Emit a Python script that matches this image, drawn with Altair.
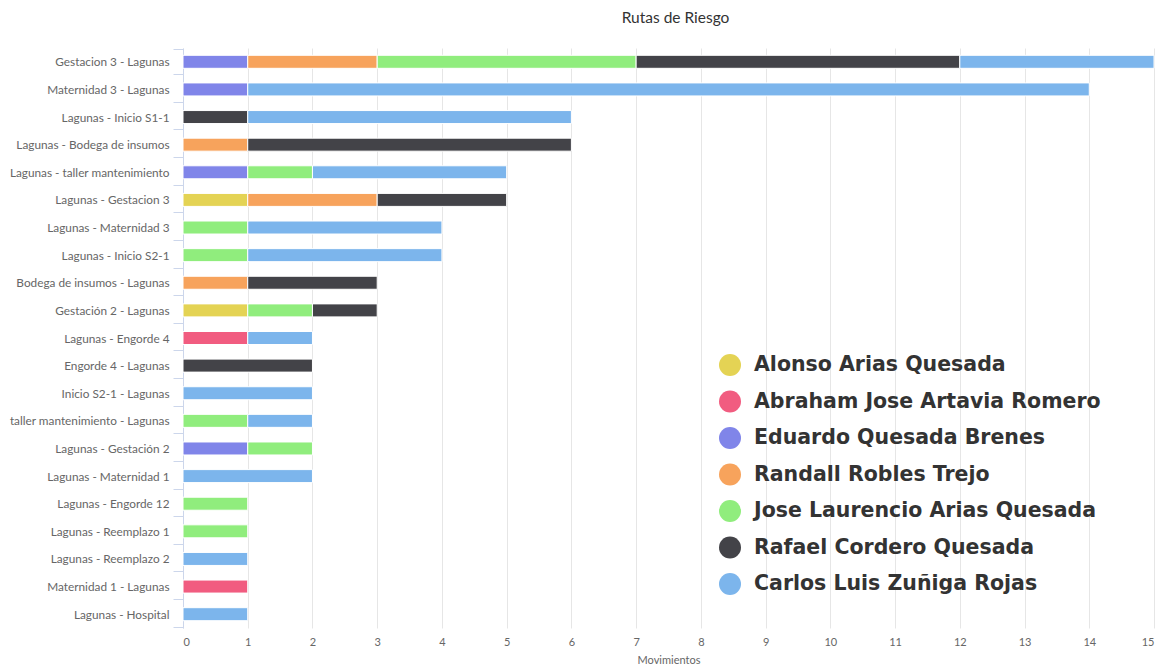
import altair as alt
import pandas as pd

routes = [
    "Gestacion 3 - Lagunas",
    "Maternidad 3 - Lagunas",
    "Lagunas - Inicio S1-1",
    "Lagunas - Bodega de insumos",
    "Lagunas - taller mantenimiento",
    "Lagunas - Gestacion 3",
    "Lagunas - Maternidad 3",
    "Lagunas - Inicio S2-1",
    "Bodega de insumos - Lagunas",
    "Gestación 2 - Lagunas",
    "Lagunas - Engorde 4",
    "Engorde 4 - Lagunas",
    "Inicio S2-1 - Lagunas",
    "taller mantenimiento - Lagunas",
    "Lagunas - Gestación 2",
    "Lagunas - Maternidad 1",
    "Lagunas - Engorde 12",
    "Lagunas - Reemplazo 1",
    "Lagunas - Reemplazo 2",
    "Maternidad 1 - Lagunas",
    "Lagunas - Hospital",
]

people = [
    "Alonso Arias Quesada",
    "Abraham Jose Artavia Romero",
    "Eduardo Quesada Brenes",
    "Randall Robles Trejo",
    "Jose Laurencio Arias Quesada",
    "Rafael Cordero Quesada",
    "Carlos Luis Zuñiga Rojas",
]
colors = ["#e4d354", "#f15c80", "#8085e9", "#f7a35c", "#90ed7d", "#434348", "#7cb5ec"]

alonso  = [0, 0, 0, 0, 0, 1, 0, 0, 0, 1, 0, 0, 0, 0, 0, 0, 0, 0, 0, 0, 0]
abraham = [0, 0, 0, 0, 0, 0, 0, 0, 0, 0, 1, 0, 0, 0, 0, 0, 0, 0, 0, 1, 0]
eduardo = [1, 1, 0, 0, 1, 0, 0, 0, 0, 0, 0, 0, 0, 0, 1, 0, 0, 0, 0, 0, 0]
randall = [2, 0, 0, 1, 0, 2, 0, 0, 1, 0, 0, 0, 0, 0, 0, 0, 0, 0, 0, 0, 0]
jose    = [4, 0, 0, 0, 1, 0, 1, 1, 0, 1, 0, 0, 0, 1, 1, 0, 1, 1, 0, 0, 0]
rafael  = [5, 0, 1, 5, 0, 2, 0, 0, 2, 1, 0, 2, 0, 0, 0, 0, 0, 0, 0, 0, 0]
carlos  = [3, 13, 5, 0, 3, 0, 3, 3, 0, 0, 1, 0, 2, 1, 0, 2, 0, 0, 1, 0, 1]

series = [alonso, abraham, eduardo, randall, jose, rafael, carlos]

rows = []
for i, (name, vals) in enumerate(zip(people, series)):
    for route, v in zip(routes, vals):
        if v > 0:
            rows.append({"ruta": route, "persona": name, "idx": i, "movs": v})
df = pd.DataFrame(rows)

chart = (
    alt.Chart(df)
    .mark_bar(size=13, stroke="white", strokeWidth=1)
    .encode(
        y=alt.Y(
            "ruta:N",
            sort=routes,
            title=None,
            axis=alt.Axis(
                domainColor="#ccd6eb",
                tickColor="#ccd6eb",
                tickSize=10,
                tickBand="extent",
                labelPadding=4,
                labelFontSize=11.8,
                labelColor="#666666",
                labelFont="Lato",
                grid=False,
                minExtent=170,
            ),
        ),
        x=alt.X(
            "movs:Q",
            stack="zero",
            title="Movimientos",
            scale=alt.Scale(domain=[0, 15], nice=False),
            axis=alt.Axis(
                values=list(range(16)),
                domain=False,
                ticks=False,
                labelPadding=8,
                labelFontSize=11,
                labelColor="#666666",
                labelFont="Lato",
                gridColor="#e6e6e6",
                titleFontSize=11,
                titleColor="#666666",
                titleFont="Lato",
                titleFontWeight="normal",
                titlePadding=7,
            ),
        ),
        color=alt.Color(
            "persona:N",
            scale=alt.Scale(domain=people, range=colors),
            legend=alt.Legend(
                title=None,
                orient="none",
                legendX=536,
                legendY=306,
                symbolType="circle",
                symbolSize=484,
                symbolStrokeWidth=0,
                symbolOpacity=1,
                labelFontSize=20.5,
                labelFont="DejaVu Sans",
                labelFontWeight="bold",
                labelColor="#333333",
                labelOffset=13,
                rowPadding=14.5,
                padding=0,
                labelLimit=500,
            ),
        ),
        order=alt.Order("idx:Q", sort="ascending"),
        tooltip=["ruta", "persona", "movs"],
    )
    .properties(
        width=971,
        height=580,
        padding={"left": 1, "top": 2, "right": 0, "bottom": 5},
        title=alt.TitleParams(
            "Rutas de Riesgo",
            fontSize=15.5,
            font="Lato",
            fontWeight="normal",
            color="#333333",
            anchor="middle",
            offset=17,
            dx=7,
        ),
    )
    .configure_view(stroke=None)
)

chart.save("out.html", embed_options={"renderer": "svg", "actions": False})
